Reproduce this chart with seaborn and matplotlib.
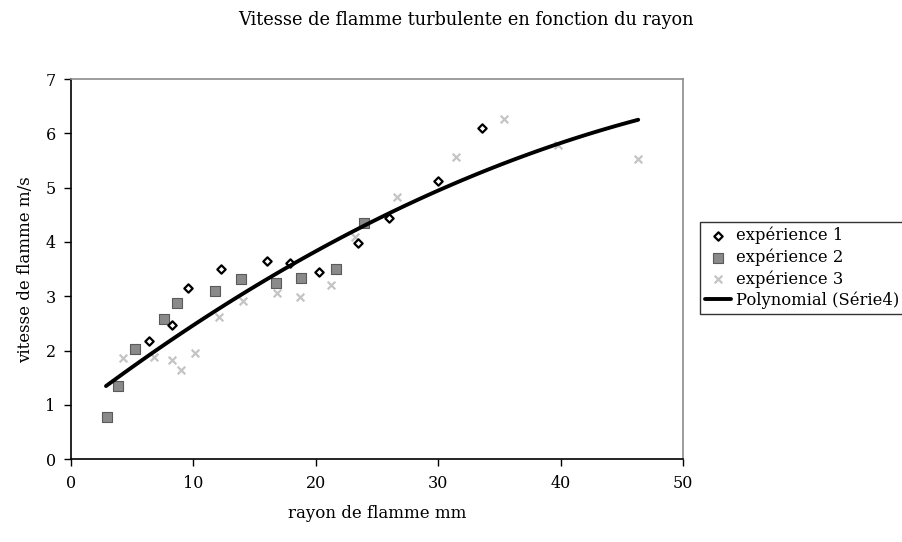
import matplotlib
matplotlib.use("Agg")
import matplotlib.pyplot as plt
import seaborn as sns
import pandas as pd
import numpy as np

# --- data ---
exp1_x = [6.40, 8.23, 9.59, 12.29, 16.00, 17.91, 20.30, 23.44, 25.98, 29.95, 33.58]
exp1_y = [2.18, 2.47, 3.15, 3.50, 3.65, 3.61, 3.44, 3.99, 4.44, 5.12, 6.10]

exp2_x = [2.92, 3.84, 5.21, 7.58, 8.69, 11.80, 13.90, 16.74, 18.78, 21.69, 23.90]
exp2_y = [0.78, 1.35, 2.03, 2.59, 2.87, 3.10, 3.31, 3.24, 3.34, 3.50, 4.35]

exp3_x = [4.28, 6.81, 8.23, 8.99, 10.11, 12.08, 14.09, 16.84, 18.72, 21.26, 23.20, 26.63, 31.46, 35.35, 39.80, 46.34]
exp3_y = [1.86, 1.88, 1.83, 1.65, 1.95, 2.62, 2.92, 3.06, 2.99, 3.20, 4.10, 4.83, 5.56, 6.27, 5.78, 5.53]

# points
trend_x = [2.86, 10.0, 16.0, 23.44, 29.95, 39.93, 46.34]
trend_y = [1.37, 2.44, 3.30, 4.25, 4.96, 5.82, 6.24]

x_ticks = [0, 10, 20, 30, 40, 50]
y_ticks = [0, 1, 2, 3, 4, 5, 6, 7]

title = "Vitesse de flamme turbulente en fonction du rayon"
xlabel = "rayon de flamme mm"
ylabel = "vitesse de flamme m/s"
labels = ["expérience 1", "expérience 2", "expérience 3", "Polynomial (Série4)"]

sns.set_theme(style="white")
plt.rcParams['font.family'] = ['DejaVu Serif']
plt.rcParams['text.color'] = 'black'
plt.rcParams['axes.labelcolor'] = 'black'
plt.rcParams['xtick.color'] = 'black'
plt.rcParams['ytick.color'] = 'black'

fig = plt.figure(figsize=(9.02, 5.42), dpi=100)
ax = fig.add_axes([71/902, 1-459.3/542, (683-71)/902, (459.3-79)/542])

df1 = pd.DataFrame({"x": exp1_x, "y": exp1_y})
df2 = pd.DataFrame({"x": exp2_x, "y": exp2_y})
df3 = pd.DataFrame({"x": exp3_x, "y": exp3_y})
dft = pd.DataFrame({"x": trend_x, "y": trend_y})

sns.scatterplot(data=df1, x="x", y="y", ax=ax, marker="D", s=18,
                color="white", edgecolor="black", linewidth=1.6, label=labels[0], zorder=4)
sns.scatterplot(data=df2, x="x", y="y", ax=ax, marker="s", s=45,
                color="#8a8a8a", edgecolor="#5a5a5a", linewidth=0.8, label=labels[1], zorder=3)
sns.scatterplot(data=df3, x="x", y="y", ax=ax, marker="x", s=30,
                color="#c4c4c4", linewidth=1.6, label=labels[2], zorder=2)
sns.regplot(data=dft, x="x", y="y", ax=ax, order=2, ci=None, scatter=False,
            truncate=True, line_kws={"color": "black", "linewidth": 2.8, "zorder": 5},
            label=labels[3])

ax.set_xlim(0, 50)
ax.set_ylim(0, 7)
ax.set_xticks(x_ticks)
ax.set_yticks(y_ticks)
ax.tick_params(axis="both", direction="out", length=5, width=1, color="black",
               labelcolor="black", labelsize=11.5, pad=6, bottom=True, left=True)
ax.set_xlabel(xlabel, fontsize=12, labelpad=10, color="black")
ax.set_ylabel(ylabel, fontsize=12, labelpad=8, color="black")
for s in ["left", "bottom"]:
    ax.spines[s].set_color("black")
    ax.spines[s].set_linewidth(1.2)
for s in ["top", "right"]:
    ax.spines[s].set_color("#8c8c8c")
    ax.spines[s].set_linewidth(1.2)

fig.text(466/902, 1-20/542, title, ha="center", va="center", fontsize=12.8, color="black")

handles, labs = ax.get_legend_handles_labels()
order = [labs.index(l) for l in labels if l in labs]
leg = ax.legend([handles[i] for i in order], [labs[i] for i in order],
                loc="upper left", bbox_to_anchor=(700/902, 1-222/542),
                bbox_transform=fig.transFigure, frameon=True, fancybox=False,
                edgecolor="black", fontsize=11.8, handlelength=1.6,
                handletextpad=0.3, borderpad=0.3, labelspacing=0.25, borderaxespad=0)
leg.get_frame().set_linewidth(1.0)
for t in leg.get_texts():
    t.set_color("black")

fig.savefig("out.png", dpi=100)
